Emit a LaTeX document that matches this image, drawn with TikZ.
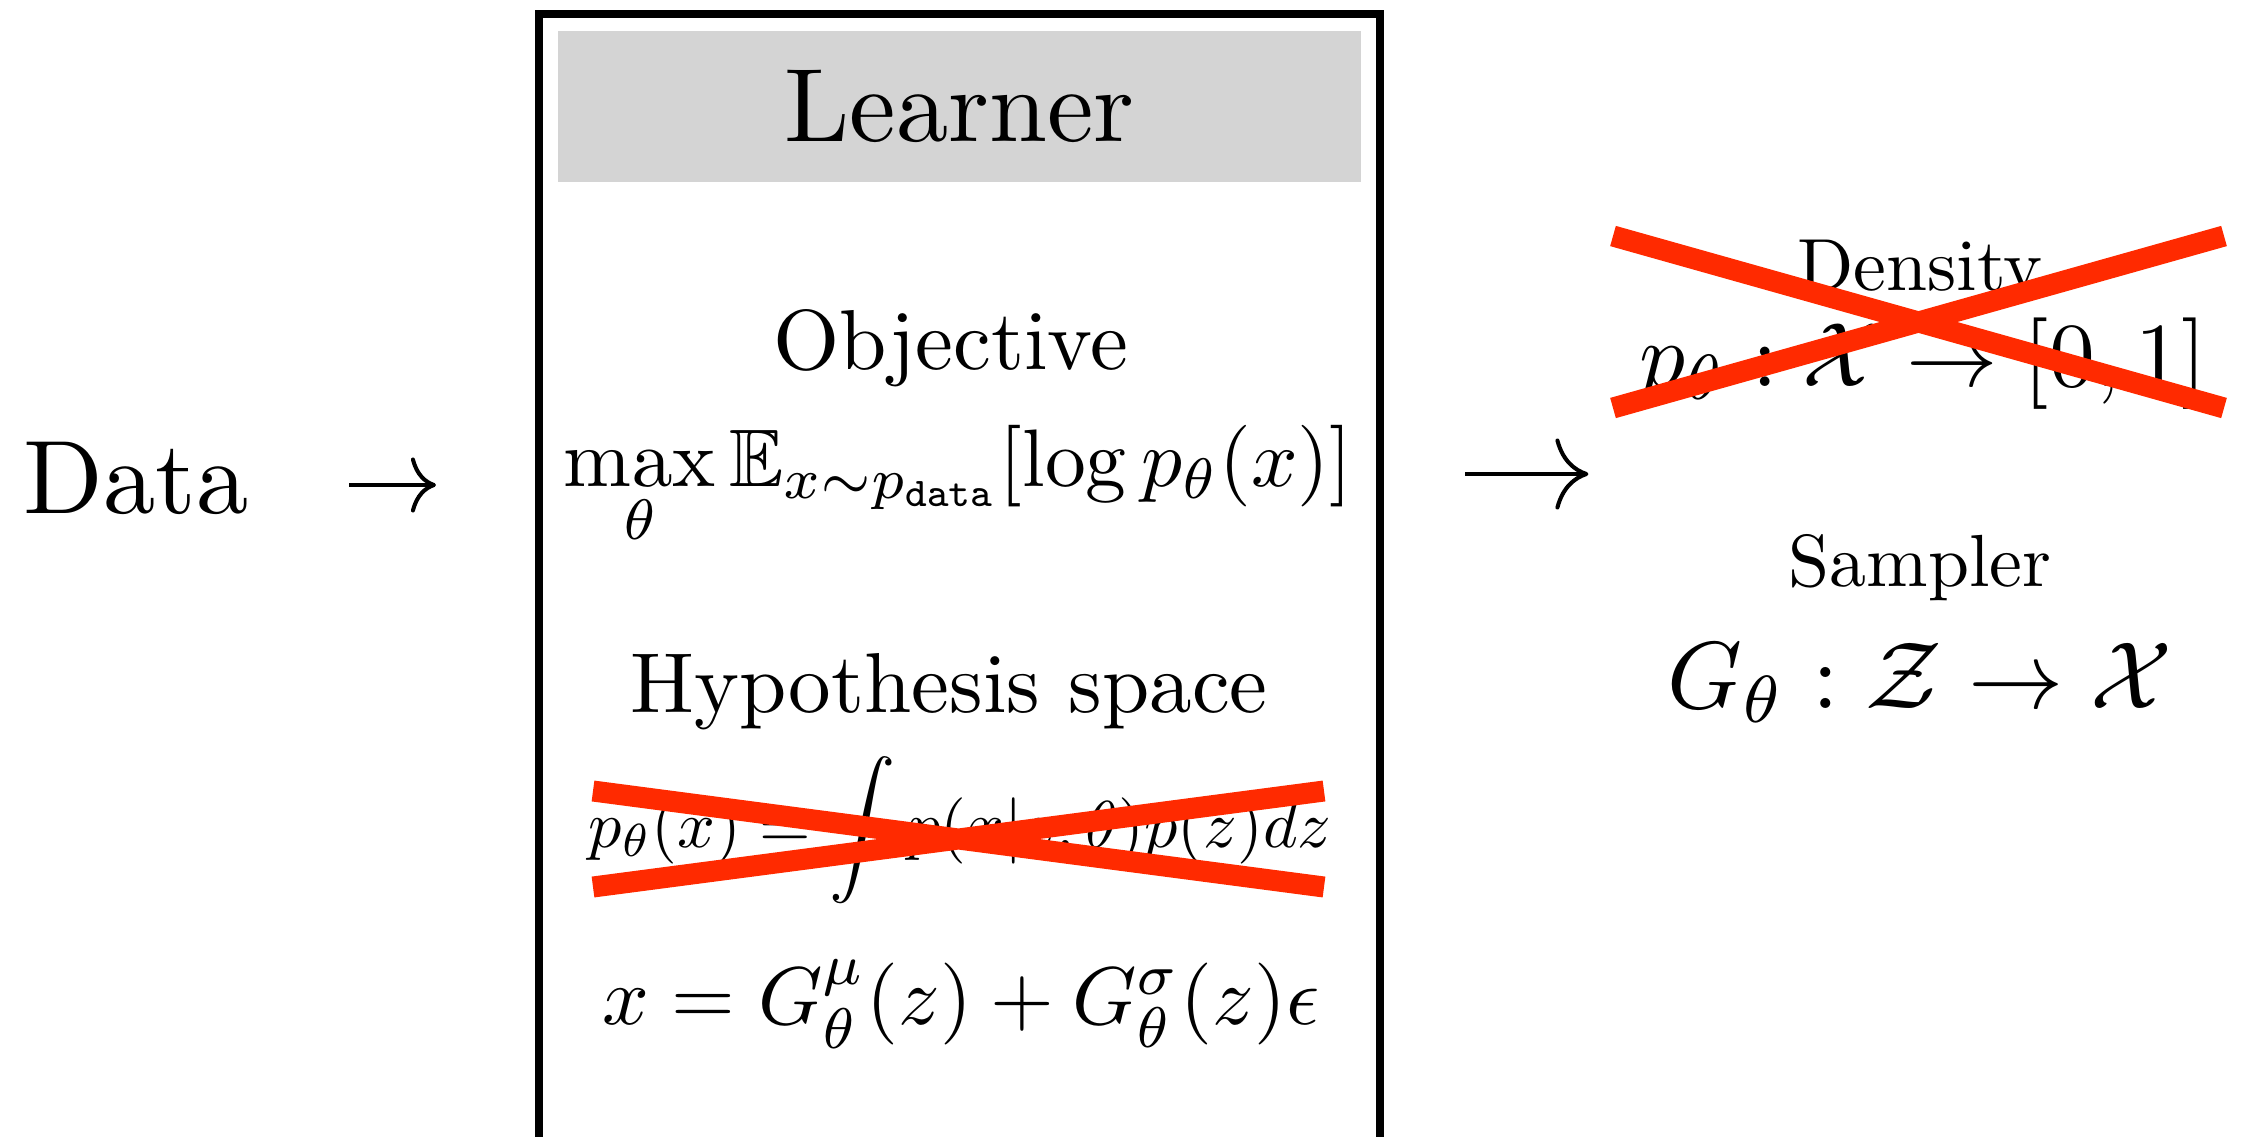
\documentclass[tikz,border=0pt]{standalone}
\usepackage{amsmath,amssymb,graphicx}
\usetikzlibrary{arrows.meta, positioning, calc}
\definecolor{CrossRed}{HTML}{FF2A00}
\definecolor{TitleGray}{HTML}{D4D4D4}

\begin{document}
\begin{tikzpicture}[x=0.01cm, y=-0.01cm,
          lbl/.style={inner sep=0pt, anchor=base},
          strike/.style={draw=CrossRed, line width=0.21cm},
          arr/.style={-{Computer Modern Rightarrow[length=2.5mm, width=5.5mm]}, line width=1.15pt},
          bigarr/.style={-{Computer Modern Rightarrow[length=3.3mm, width=7.1mm]}, line width=1.15pt}
        ]
          \useasboundingbox (0,0) rectangle (2242,1136);
          % learner frame, open at the bottom
          \draw[line width=2.1pt] (539,1140) |- (1380,14) -- (1380,1140);
          \coordinate (frameW) at (539,485);
          \coordinate (frameE) at (1380,474);
          \node[fill=TitleGray, minimum width=8.03cm, minimum height=1.51cm, inner sep=0pt] (title) at (959.5,106.5) {\scalebox{2.97}{Learner}};
          \node[lbl] (data) at (136,513) {\scalebox{2.97}{Data}};
          \node[lbl] (objective) at (951,369) {\scalebox{2.42}{Objective}};
          \node[lbl] (objfn) at (958,486) {\scalebox{2.32}{$\displaystyle\max_\theta \mathbb{E}_{x\sim p_{\mathtt{data}}}[\log p_\theta(x)]$}};
          \node[lbl] (hypothesis) at (949,712) {\scalebox{2.42}{Hypothesis space}};
          \node[lbl] (intfn) at (960,847) {\scalebox{1.885}{$\displaystyle p_\theta(x) = \int p(x|z,\theta)p(z)dz$}};
          \node[lbl] (genfn) at (961,1024) {\scalebox{2.33}{$x = G^\mu_\theta(z) + G^\sigma_\theta(z)\epsilon$}};
          \node[lbl] (density) at (1920,290) {\scalebox{2.1}{Density}};
          \node[lbl] (densfn) at (1923,386) {\scalebox{2.6}{$p_\theta : \mathcal{X} \to [0,1]$}};
          \node[lbl] (sampler) at (1920,586) {\scalebox{2.1}{Sampler}};
          \node[lbl] (sampfn) at (1920,708) {\scalebox{2.71}{$G_\theta : \mathcal{Z} \to \mathcal{X}$}};
          \draw[arr, shorten <=1.0cm, shorten >=1.03cm] (data.east |- frameW) -- (frameW);
          \draw[bigarr, shorten <=0.85cm] (frameE) -- ([xshift=-2.08cm]density.west |- frameE);
          % crossed out
          \draw[strike] (1613,236) -- (2224,408) (1613,408) -- (2224,236);
          \draw[strike] (593,791) -- (1324,887) (593,887) -- (1324,791);
        \end{tikzpicture}
\end{document}
